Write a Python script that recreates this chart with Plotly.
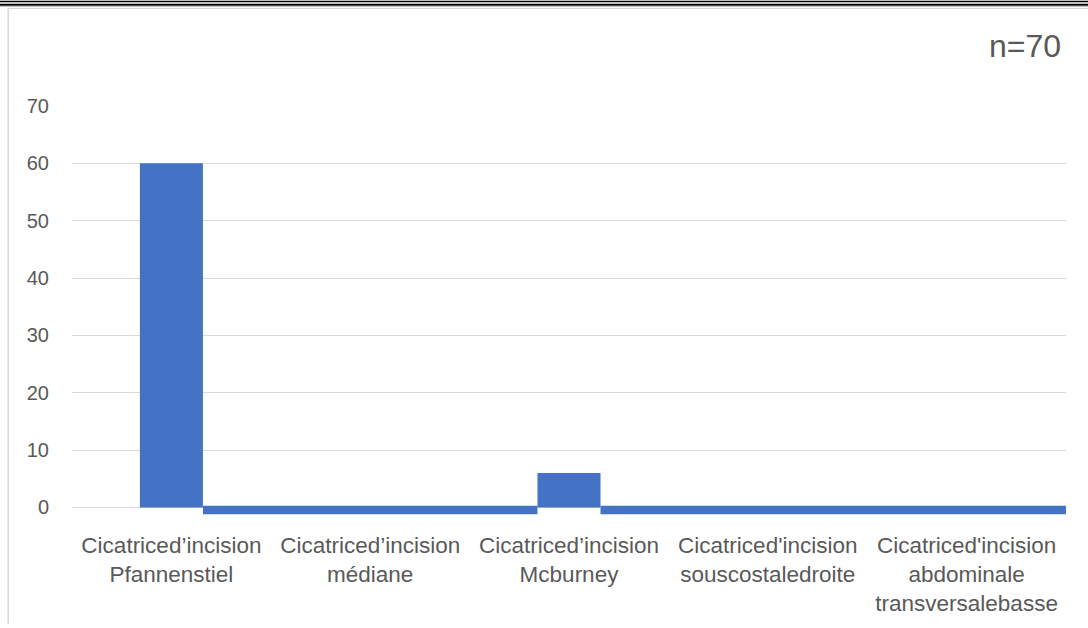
import plotly.graph_objects as go

# Scar / incision type counts (n=70)
categories = [
    "Cicatriced’incision<br>Pfannenstiel",
    "Cicatriced’incision<br>médiane",
    "Cicatriced’incision<br>Mcburney",
    "Cicatriced'incision<br>souscostaledroite",
    "Cicatriced'incision<br>abdominale<br>transversalebasse",
]
counts = [60, 0, 6, 0, 0]
total_label = "n=70"

# thin band running along the baseline under the empty categories
band_low, band_high = -1.2, 0.3

y_ticks = [0, 10, 20, 30, 40, 50, 60, 70]

BAR_COLOR = "#4472C4"
TEXT_COLOR = "#595959"
GRID_COLOR = "#D9D9D9"
FONT = "Liberation Sans, Arial, sans-serif"

W, H = 1088, 628
M_L, M_R, M_T, M_B = 72, 22, 106, 108.6
x_lo, x_hi = -0.5, len(categories) - 0.5
y_lo, y_hi = -1.5, 70
bar_w = 0.317

idx = list(range(len(categories)))

fig = go.Figure()
fig.add_trace(go.Bar(
    x=idx, y=counts, width=bar_w,
    marker=dict(color=BAR_COLOR, line=dict(width=0)),
    hoverinfo="x+y",
))

# baseline band: from the right edge of each non-empty bar to the left edge of the next one
filled = [i for i, v in enumerate(counts) if v > 0]
band_x, band_w = [], []
for k, i in enumerate(filled):
    start = i + bar_w / 2
    end = filled[k + 1] - bar_w / 2 if k + 1 < len(filled) else x_hi
    if end > start:
        band_x.append((start + end) / 2)
        band_w.append(end - start)
fig.add_trace(go.Bar(
    x=band_x, y=[band_high - band_low] * len(band_x), base=band_low, width=band_w,
    marker=dict(color=BAR_COLOR, line=dict(width=0)),
    hoverinfo="skip",
))

plot_h = H - M_T - M_B
plot_w = W - M_L - M_R


def px(xp):
    return (xp - M_L) / plot_w


def py(yp):
    return (H - M_B - yp) / plot_h


shapes = [
    # page rules along the top edge
    dict(type="line", xref="paper", yref="paper", x0=px(0), x1=px(W), y0=py(0.7), y1=py(0.7),
         line=dict(color="#000000", width=1.4)),
    dict(type="line", xref="paper", yref="paper", x0=px(0), x1=px(W), y0=py(4), y1=py(4),
         line=dict(color="#000000", width=2)),
    dict(type="line", xref="paper", yref="paper", x0=px(0), x1=px(W), y0=py(5.6), y1=py(5.6),
         line=dict(color="#BFBFBF", width=1)),
    # chart frame
    dict(type="line", xref="paper", yref="paper", x0=px(8), x1=px(W), y0=py(7.5), y1=py(7.5),
         line=dict(color=GRID_COLOR, width=1.3)),
    dict(type="line", xref="paper", yref="paper", x0=px(8.2), x1=px(8.2), y0=py(7.5), y1=py(H),
         line=dict(color=GRID_COLOR, width=1.6)),
]

fig.update_layout(
    width=W, height=H,
    margin=dict(l=M_L, r=M_R, t=M_T, b=M_B, pad=0),
    paper_bgcolor="white", plot_bgcolor="white",
    showlegend=False,
    barmode="overlay",
    font=dict(family=FONT, color=TEXT_COLOR, size=20),
    xaxis=dict(
        range=[x_lo, x_hi], tickmode="array", tickvals=idx, ticktext=categories,
        showgrid=False, zeroline=False, showline=False, ticks="",
        tickfont=dict(size=22.5, color=TEXT_COLOR, family=FONT),
        ticklabelstandoff=13,
        fixedrange=True,
    ),
    yaxis=dict(
        range=[y_lo, y_hi], tickmode="array", tickvals=y_ticks,
        showgrid=True, gridcolor=GRID_COLOR, gridwidth=1.3,
        zeroline=False, showline=False, ticks="",
        tickfont=dict(size=20, color=TEXT_COLOR, family=FONT),
        ticklabelstandoff=22,
        fixedrange=True,
    ),
    shapes=shapes,
    annotations=[dict(
        text=total_label, xref="paper", yref="paper", x=px(1063), y=py(46),
        xanchor="right", yanchor="middle", showarrow=False,
        font=dict(size=32, color=TEXT_COLOR, family=FONT),
    )],
)

fig.write_html("out.html")
